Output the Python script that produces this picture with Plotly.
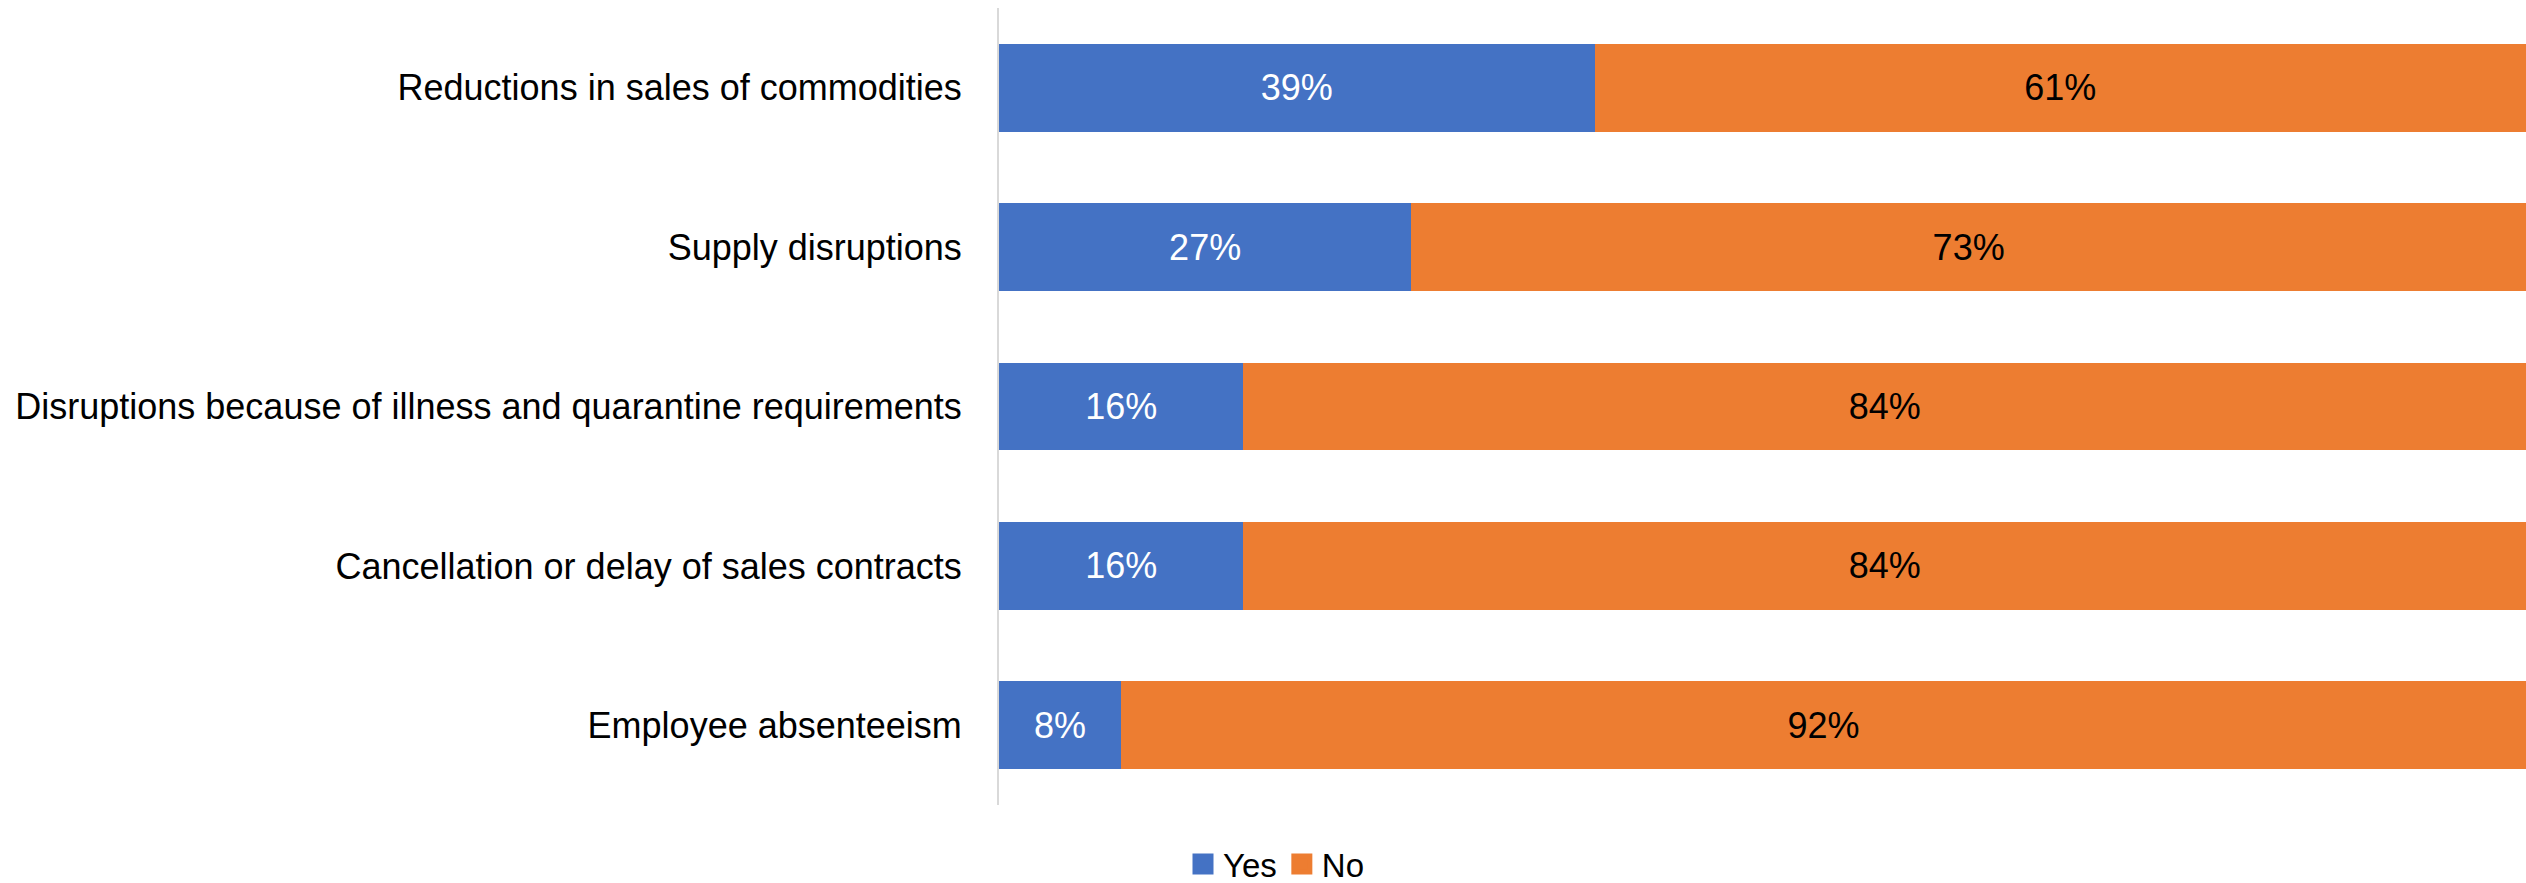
import plotly.graph_objects as go

categories = [
    "Reductions in sales of commodities",
    "Supply disruptions",
    "Disruptions because of illness and quarantine requirements",
    "Cancellation or delay of sales contracts",
    "Employee absenteeism",
]
series_names = ["Yes", "No"]
yes_values = [39, 27, 16, 16, 8]
no_values = [61, 73, 84, 84, 92]
series_colors = ["#4472C4", "#ED7D31"]
label_colors = ["white", "black"]

FONT = "Arial, Liberation Sans, sans-serif"
W, H = 2526, 883
L, R, T, B = 999, 0, 8, 78
PW, PH = W - L - R, H - T - B

fig = go.Figure()
for name, vals, col, lcol in zip(series_names, [yes_values, no_values],
                                 series_colors, label_colors):
    fig.add_trace(go.Bar(
        name=name, y=categories, x=vals, orientation="h",
        marker=dict(color=col, line=dict(width=0)),
        texttemplate="%{x}%", textposition="inside", insidetextanchor="middle",
        textangle=0, constraintext="none",
        textfont=dict(family=FONT, size=36, color=lcol),
        showlegend=False, legendgroup=name,
    ))
# legend entries (larger square swatches)
for name, col in zip(series_names, series_colors):
    fig.add_trace(go.Scatter(
        name=name, x=[None], y=[None], mode="markers",
        marker=dict(symbol="square", size=16, color=col,
                    line=dict(color=col, width=5)),
        showlegend=True, legendgroup=name, hoverinfo="skip",
    ))

fig.update_layout(
    width=W, height=H,
    barmode="stack", bargap=0.448,
    margin=dict(l=L, r=R, t=T, b=B, autoexpand=False),
    paper_bgcolor="white", plot_bgcolor="white",
    font=dict(family=FONT, color="black"),
    showlegend=True,
    legend=dict(
        orientation="h", x=(1183 - L) / PW, xanchor="left",
        y=-(864 - (H - B)) / PH, yanchor="middle",
        font=dict(family=FONT, size=33, color="black"),
        traceorder="normal", itemwidth=30, itemsizing="trace",
        bgcolor="rgba(0,0,0,0)",
    ),
)
fig.update_xaxes(range=[0, 100], showticklabels=False, showgrid=False,
                 zeroline=False, showline=False, ticks="")
fig.update_yaxes(autorange="reversed", showgrid=False, zeroline=False,
                 showline=True, linecolor="#D9D9D9", linewidth=2,
                 ticks="", ticklabelstandoff=28,
                 tickfont=dict(family=FONT, size=36, color="black"))

fig.write_html("out.html",
               config={"displayModeBar": False},
               post_script="document.body.style.margin='0';"
                           "document.body.style.overflow='hidden';")
